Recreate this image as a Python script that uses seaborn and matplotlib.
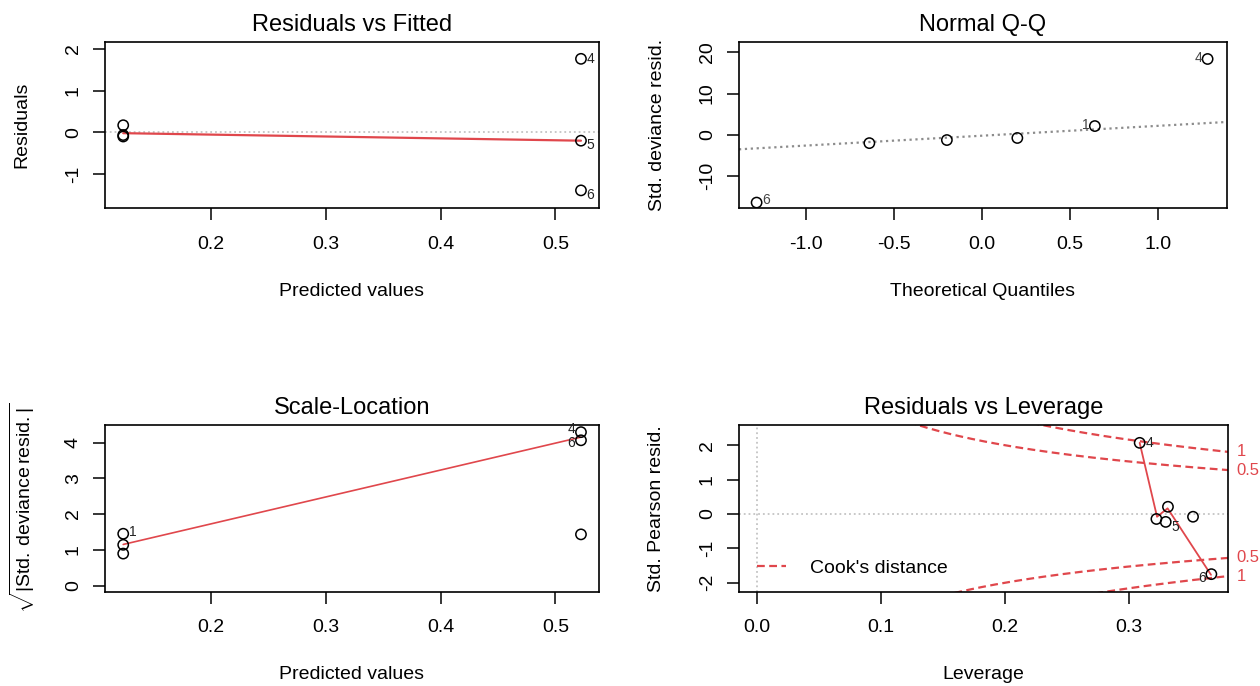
import numpy as np
import matplotlib
matplotlib.use("Agg")
import matplotlib.pyplot as plt
import seaborn as sns
from matplotlib.lines import Line2D

fitted = [0.1237, 0.1237, 0.1237, 0.5223, 0.5223, 0.5223]
residuals = [0.17, -0.065, -0.10, 1.76, -0.20, -1.39]
resid_smooth_x = [0.1237, 0.5223]
resid_smooth_y = [-0.02, -0.20]

# std. deviance residuals by observation 1..6
std_dev_resid = [2.1, -1.3, -0.8, 18.4, -2.05, -16.5]
theo_quantiles = [-1.28, -0.64, -0.20, 0.20, 0.64, 1.28]

scale_smooth_x = [0.1237, 0.5223]
scale_smooth_y = [1.15, 4.15]

leverage = [0.3220, 0.3313, 0.3515, 0.3085, 0.3295, 0.3663]
std_pearson = [-0.145, 0.21, -0.08, 2.07, -0.23, -1.75]
lev_smooth_x = [0.3085, 0.3225, 0.3310, 0.3660]
lev_smooth_y = [2.07, -0.08, 0.165, -1.77]
cook_levels = [0.5, 1]
n_params = 2

# ---- style ----
sns.set_style("ticks")
plt.rcParams["font.family"] = ["Liberation Sans", "DejaVu Sans"]
plt.rcParams["mathtext.fontset"] = "custom"
plt.rcParams["mathtext.rm"] = "Liberation Sans"
plt.rcParams["axes.unicode_minus"] = False
for key in ("text.color", "axes.labelcolor", "xtick.color", "ytick.color"):
    plt.rcParams[key] = "black"

RED = "#e0474c"
LIGHT = "#c4c4c4"
FS = 14

fig = plt.figure(figsize=(12.6, 6.86), dpi=100)
ax1 = fig.add_axes([0.0833, 0.6963, 0.3921, 0.2429])
ax2 = fig.add_axes([0.5865, 0.6963, 0.3873, 0.2429])
ax3 = fig.add_axes([0.0833, 0.1375, 0.3921, 0.2430])
ax4 = fig.add_axes([0.5865, 0.1375, 0.3881, 0.2430])


def style_box(ax, title, xlabel, ylabel, xticks, yticks, xlim, ylim, xticklabels=None):
    ax.set_xlim(xlim)
    ax.set_ylim(ylim)
    ax.set_xticks(xticks)
    ax.set_yticks(yticks)
    if xticklabels is not None:
        ax.set_xticklabels(xticklabels)
    for s in ax.spines.values():
        s.set_visible(True)
        s.set_linewidth(1.2)
        s.set_color("black")
    ax.tick_params(direction="out", length=8.6, width=1.1, labelsize=FS, pad=8)
    ax.tick_params(axis="x", pad=11)
    for lab in ax.get_yticklabels():
        lab.set_rotation(90)
        lab.set_va("center")
    ax.set_title(title, fontsize=17, pad=8)
    ax.set_xlabel(xlabel, fontsize=FS)
    ax.set_ylabel(ylabel, fontsize=FS)
    ax.xaxis.set_label_coords(0.5, -0.497)
    ax.xaxis.label.set_va("center")
    ax.yaxis.set_label_coords(-0.168, 0.5)
    ax.yaxis.label.set_va("center")


def put_id(ax, x, y, text, side, dy=0, color="#222222", fs=10):
    dx = 4 if side == "right" else -4
    ax.annotate(text, (x, y), xytext=(dx, dy), textcoords="offset points",
                ha="left" if side == "right" else "right", va="center",
                fontsize=fs, color=color, annotation_clip=False)


def circles(ax, x, y):
    sns.scatterplot(x=x, y=y, ax=ax, s=55, facecolor="none", edgecolor="black",
                    linewidth=1.1, legend=False, zorder=3)


# ---- Residuals vs Fitted ----
ax1.axhline(0, color=LIGHT, ls=":", lw=1.3)
sns.lineplot(x=resid_smooth_x, y=resid_smooth_y, ax=ax1, color=RED, lw=1.6)
circles(ax1, fitted, residuals)
style_box(ax1, "Residuals vs Fitted", "Predicted values", "Residuals",
          [0.2, 0.3, 0.4, 0.5], [-1, 0, 1, 2], (0.1078, 0.538), (-1.82, 2.17))
put_id(ax1, fitted[3], residuals[3], "4", "right")
put_id(ax1, fitted[4], residuals[4], "5", "right", dy=-3)
put_id(ax1, fitted[5], residuals[5], "6", "right", dy=-3)

# ---- Normal Q-Q ----
order = np.argsort(std_dev_resid)
qq_y = np.array(std_dev_resid)[order]
q1, q3 = np.quantile(std_dev_resid, [0.25, 0.75])
slope = (q3 - q1) / (2 * 0.6745)
inter = q1 + slope * 0.6745
xl2 = (-1.38, 1.39)
sns.lineplot(x=list(xl2), y=[inter + slope * xl2[0], inter + slope * xl2[1]],
             ax=ax2, color="#8c8c8c", ls=":", lw=1.6)
circles(ax2, theo_quantiles, qq_y)
style_box(ax2, "Normal Q-Q", "Theoretical Quantiles", "Std. deviance resid.",
          [-1, -0.5, 0, 0.5, 1], [-10, 0, 10, 20], xl2, (-17.9, 22.6),
          ["-1.0", "-0.5", "0.0", "0.5", "1.0"])
qq_ids = [str(i + 1) for i in order]
for xq, yq, lab in zip(theo_quantiles, qq_y, qq_ids):
    if lab == "6":
        put_id(ax2, xq, yq, lab, "right", dy=2, color="#444444")
    elif lab in ("1", "4"):
        put_id(ax2, xq, yq, lab, "left", dy=1, color="#444444")

# ---- Scale-Location ----
sqrt_abs = np.sqrt(np.abs(std_dev_resid))
sns.lineplot(x=scale_smooth_x, y=scale_smooth_y, ax=ax3, color=RED, lw=1.2)
circles(ax3, fitted, sqrt_abs)
style_box(ax3, "Scale-Location", "Predicted values",
          r"$\sqrt{|\mathrm{Std.\!deviance\!resid.}|}$",
          [0.2, 0.3, 0.4, 0.5], [0, 1, 2, 3, 4], (0.1078, 0.538), (-0.17, 4.49))
ax3.set_ylabel(r"$\sqrt{|\mathrm{Std.}\,\mathrm{deviance}\,\mathrm{resid.}|}$", fontsize=FS)
ax3.yaxis.set_label_coords(-0.168, 0.5)
ax3.yaxis.label.set_va("center")
put_id(ax3, fitted[0], sqrt_abs[0], "1", "right", dy=1)
put_id(ax3, fitted[3], sqrt_abs[3], "4", "left", dy=2)
put_id(ax3, fitted[5], sqrt_abs[5], "6", "left", dy=-2)

# ---- Residuals vs Leverage ----
xl4 = (-0.0145, 0.3797)
yl4 = (-2.26, 2.59)
ax4.axhline(0, color=LIGHT, ls=":", lw=1.3)
ax4.axvline(0, color=LIGHT, ls=":", lw=1.3)
hh = np.linspace(0.005, xl4[1], 300)
for lev in cook_levels:
    cy = np.sqrt(lev * n_params * (1 - hh) / hh)
    for sgn in (1, -1):
        sns.lineplot(x=hh, y=sgn * cy, ax=ax4, color=RED, lw=1.6,
                     sort=False, estimator=None)
        ax4.lines[-1].set_dashes((3.5, 2))
        yend = sgn * np.sqrt(lev * n_params * (1 - xl4[1]) / xl4[1])
        ax4.annotate(f"{lev:g}", (1.0, yend), xycoords=("axes fraction", "data"),
                     xytext=(6, 0), textcoords="offset points", ha="left",
                     va="center", fontsize=12, color=RED, annotation_clip=False)
sns.lineplot(x=lev_smooth_x, y=lev_smooth_y, ax=ax4, color=RED, lw=1.3,
             sort=False, estimator=None)
circles(ax4, leverage, std_pearson)
style_box(ax4, "Residuals vs Leverage", "Leverage", "Std. Pearson resid.",
          [0, 0.1, 0.2, 0.3], [-2, -1, 0, 1, 2], xl4, yl4,
          ["0.0", "0.1", "0.2", "0.3"])
put_id(ax4, leverage[3], std_pearson[3], "4", "right")
put_id(ax4, leverage[4], std_pearson[4], "5", "right", dy=-4)
put_id(ax4, leverage[5], std_pearson[5], "6", "left", dy=-3)
ax4.legend(handles=[Line2D([], [], color=RED, lw=1.6, ls=(0, (3.5, 2)))],
           labels=["Cook's distance"], loc="center left",
           bbox_to_anchor=(0.037, 0.142), frameon=False, fontsize=FS,
           borderpad=0, borderaxespad=0, handlelength=1.5, handletextpad=1.2)

fig.savefig("out.png", dpi=100)
